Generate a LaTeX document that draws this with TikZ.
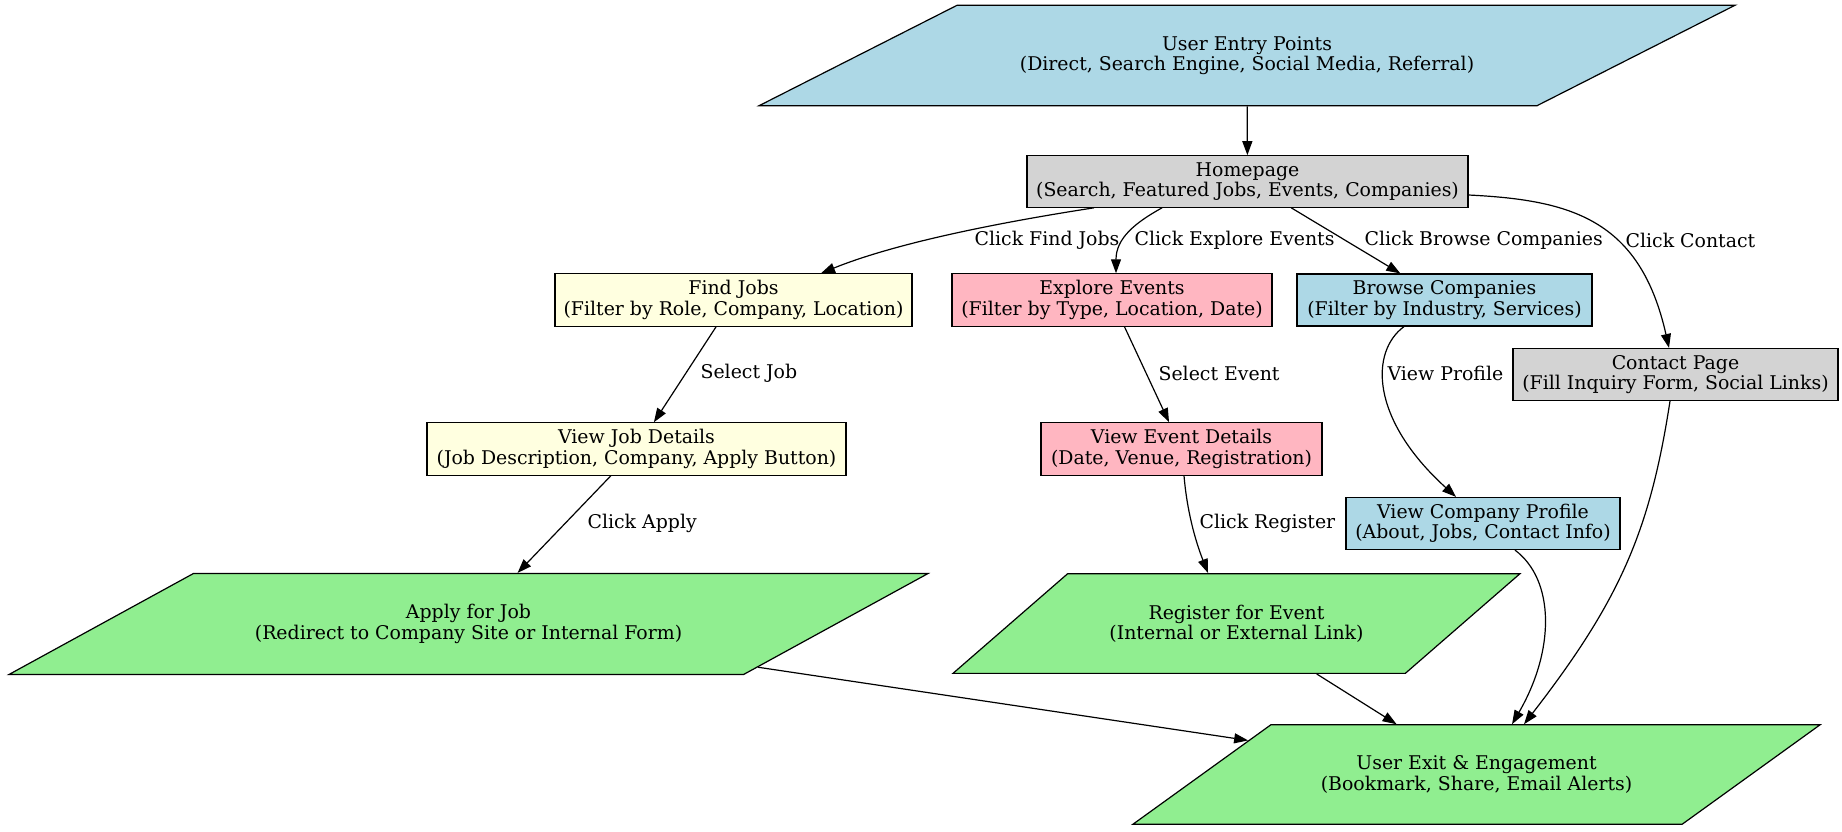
\documentclass[tikz,border=0pt]{standalone}
\usepackage{fontspec}
\setmainfont{DejaVu Serif}
\usepackage{xcolor}
\usepackage{tikz}
\usetikzlibrary{arrows.meta, shapes.geometric, calc}
\definecolor{nodeblue}{RGB}{173, 216, 230}
\definecolor{nodegray}{RGB}{211, 211, 211}
\definecolor{nodeyellow}{RGB}{255, 255, 224}
\definecolor{nodepink}{RGB}{255, 182, 193}
\definecolor{nodegreen}{RGB}{144, 238, 144}

\begin{document}
\begin{tikzpicture}[x=0.5pt, y=-0.5pt,
    page/.style={rectangle, draw, line width=0.6pt, minimum height=25pt,
                 inner xsep=2pt, align=center, font=\fontsize{9.45}{10.2}\selectfont},
    flow/.style={trapezium, trapezium stretches body, draw, line width=0.6pt,
                 inner xsep=0pt, inner ysep=15.5pt, align=center, font=\fontsize{9.45}{10.2}\selectfont},
    arr/.style={-{Triangle[length=7pt, width=5pt]}, line width=0.6pt},
    edgetext/.style={font=\fontsize{9.45}{10.2}\selectfont, inner sep=0pt, anchor=west}
]
    \useasboundingbox (0,0) rectangle (1842,831);

    \node[flow, fill=nodeblue, trapezium left angle=26.9, trapezium right angle=153.1,
          minimum width=488pt] (entry) at (1247,55.5)
          {User Entry Points\\(Direct, Search Engine, Social Media, Referral)};
    \node[page, fill=nodegray, minimum width=220.5pt] (home) at (1247.5,181.5)
          {Homepage\\(Search, Featured Jobs, Events, Companies)};
    \node[page, fill=nodeyellow, minimum width=178.5pt] (find) at (733.5,300)
          {Find Jobs\\(Filter by Role, Company, Location)};
    \node[page, fill=nodepink, minimum width=160pt] (explore) at (1112,300)
          {Explore Events\\(Filter by Type, Location, Date)};
    \node[page, fill=nodeblue, minimum width=147.5pt] (browse) at (1444.5,300)
          {Browse Companies\\(Filter by Industry, Services)};
    \node[page, fill=nodegray, minimum width=162.5pt] (contact) at (1675.5,374.5)
          {Contact Page\\(Fill Inquiry Form, Social Links)};
    \node[page, fill=nodeyellow, minimum width=209.5pt] (jobdet) at (636.5,449)
          {View Job Details\\(Job Description, Company, Apply Button)};
    \node[page, fill=nodepink, minimum width=140.5pt] (eventdet) at (1181.5,449)
          {View Event Details\\(Date, Venue, Registration)};
    \node[page, fill=nodeblue, minimum width=137pt] (profile) at (1483,523.5)
          {View Company Profile\\(About, Jobs, Contact Info)};
    \node[flow, fill=nodegreen, trapezium left angle=28.7, trapezium right angle=151.3,
          minimum width=459.5pt] (apply) at (468.5,624)
          {Apply for Job\\(Redirect to Company Site or Internal Form)};
    \node[flow, fill=nodegreen, trapezium left angle=41, trapezium right angle=139,
          minimum width=283.5pt] (register) at (1236.5,623.5)
          {Register for Event\\(Internal or External Link)};
    \node[flow, fill=nodegreen, trapezium left angle=35.8, trapezium right angle=144.2,
          minimum width=343.5pt] (exit) at (1476.5,774.5)
          {User Exit \& Engagement\\(Bookmark, Share, Email Alerts)};

    \draw[arr] (entry) -- (home);
    \draw[arr] ($(home.south)+(-153.5,0)$) .. controls +(-84,13) and +(79,-32) .. ($(find.north)+(87.5,0)$)
        node[edgetext] at (974,240) {Click Find Jobs};
    \draw[arr] ($(home.south)+(-85.5,0)$) .. controls +(-27,15) and +(0,-35) .. ($(explore.north)+(4,0)$)
        node[edgetext] at (1134,240) {Click Explore Events};
    \draw[arr] (home) -- (browse) node[edgetext] at (1364,240) {Click Browse Companies};
    \draw[arr] ($(home.east)+(0,13.5)$) .. controls +(102,5) and +(-29,-129) .. ($(contact.north)+(-6.5,0)$)
        node[edgetext] at (1625,240) {Click Contact};
    \draw[arr] (find) -- (jobdet) node[edgetext] at (700,373) {Select Job};
    \draw[arr] (explore) -- (eventdet) node[edgetext] at (1158,373) {Select Event};
    \draw[arr] ($(browse.south)+(-40.5,0)$) .. controls +(-34,25) and +(-86,-78) .. ($(profile.north)+(-27,0)$)
        node[edgetext] at (1387,373) {View Profile};
    \draw[arr] (jobdet) -- (apply) node[edgetext] at (587,523) {Click Apply};
    \draw[arr] ($(eventdet.south)+(2.5,0)$) .. controls +(3,35) and +(-13,-33) .. ($(register.north)+(-28.5,0)$)
        node[edgetext] at (1199,523) {Click Register};
    \draw[arr] ($(contact.south)+(-5.5,0)$) .. controls +(-20,130) and +(96,-124) .. ($(exit.north)+(47.5,0)$);
    \draw[arr] ($(profile.south)+(32,0)$) .. controls +(40,30) and +(43,-74) .. ($(exit.north)+(35.5,0)$);
    \draw[arr] (apply) -- (exit);
    \draw[arr] (register) -- (exit);
\end{tikzpicture}
\end{document}
